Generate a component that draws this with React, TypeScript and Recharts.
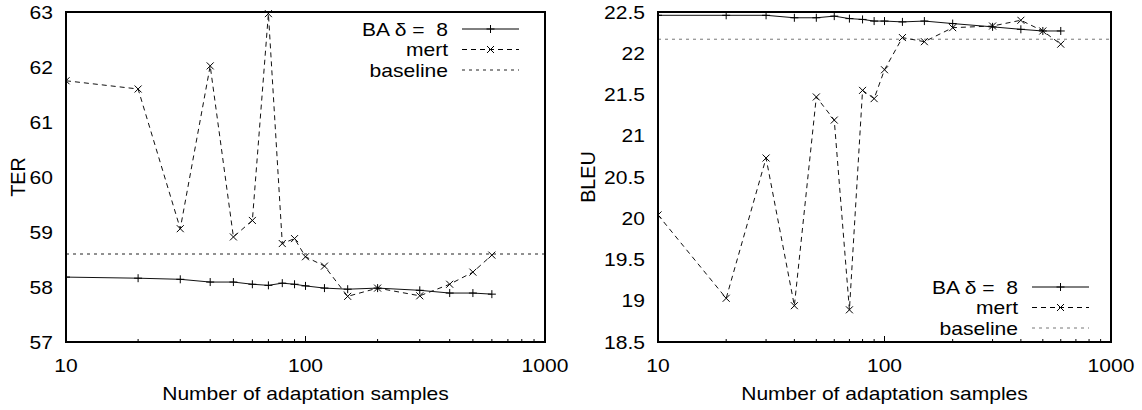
import { LineChart, Line, XAxis, YAxis, ReferenceLine, Legend } from "recharts";

// adaptation set sizes (shared x values of both panels)
const SAMPLES = [10, 20, 30, 40, 50, 60, 70, 80, 90, 100, 120, 150, 200, 300, 400, 500, 600];

const TER_BA = [58.18, 58.16, 58.14, 58.09, 58.09, 58.05, 58.03, 58.07, 58.05, 58.02, 57.98, 57.96, 57.98, 57.94, 57.89, 57.89, 57.87];
const TER_MERT = [61.75, 61.6, 59.06, 62.02, 58.91, 59.21, 62.97, 58.79, 58.88, 58.55, 58.38, 57.83, 57.98, 57.84, 58.05, 58.27, 58.58];
const TER_BASELINE = 58.6;

const BLEU_BA = [22.46, 22.46, 22.46, 22.43, 22.43, 22.45, 22.42, 22.41, 22.39, 22.39, 22.38, 22.39, 22.36, 22.32, 22.29, 22.27, 22.27];
const BLEU_MERT = [20.04, 19.03, 20.73, 18.94, 21.47, 21.19, 18.89, 21.55, 21.45, 21.8, 22.19, 22.14, 22.31, 22.33, 22.4, 22.27, 22.11];
const BLEU_BASELINE = 22.17;

const X_DOMAIN = [10, 1000];
const X_TICKS = [10, 20, 30, 40, 50, 60, 70, 80, 90, 100, 200, 300, 400, 500, 600, 700, 800, 900, 1000];
const X_LABELS = [10, 100, 1000];
const TER_TICKS = [57, 58, 59, 60, 61, 62, 63];
const BLEU_TICKS = [18.5, 19, 19.5, 20, 20.5, 21, 21.5, 22, 22.5];

const FONT = '"Liberation Sans", Arial, Helvetica, sans-serif';
const FONT_SIZE = 18;
const STRETCH = 1.17; // the original text is a bit wider than it is tall
const TOP = 12;
const X_AXIS_H = 68;
const CHART_H = 410;

function Stretched({ x, y, anchor, rotate, children }: any) {
  const t = rotate
    ? `translate(${x},${y}) rotate(-90) scale(1.1,${STRETCH})`
    : `translate(${x},${y}) scale(${STRETCH},1)`;
  return (
    <text transform={t} textAnchor={anchor} fontFamily={FONT} fontSize={FONT_SIZE} fill="#000" style={{ whiteSpace: "pre" }}>
      {children}
    </text>
  );
}

function XTick(props: any) {
  const { x, y, payload } = props;
  const major = X_LABELS.includes(payload.value);
  return (
    <g>
      <path d={`M${x},${y}v${major ? -6 : -3}`} stroke="#000" strokeWidth={1} />
      {major && (
        <Stretched x={x} y={y + 30} anchor="middle">
          {payload.value}
        </Stretched>
      )}
    </g>
  );
}

function YTick(props: any) {
  const { x, y, payload } = props;
  return (
    <Stretched x={x - 13} y={y + 6.5} anchor="end">
      {payload.value}
    </Stretched>
  );
}

function XTitle({ viewBox }: any) {
  return (
    <Stretched x={viewBox.x + viewBox.width / 2} y={viewBox.y + 58} anchor="middle">
      Number of adaptation samples
    </Stretched>
  );
}

function YTitle({ viewBox, text }: any) {
  return (
    <Stretched x={viewBox.x + 25} y={viewBox.y + viewBox.height / 2} anchor="middle" rotate>
      {text}
    </Stretched>
  );
}

const plusPath = (cx: number, cy: number) => `M${cx - 4},${cy}h8M${cx},${cy - 4}v8`;
const crossPath = (cx: number, cy: number) => `M${cx - 3.5},${cy - 3.5}l7,7M${cx - 3.5},${cy + 3.5}l7,-7`;

const plusDot = (p: any) => (
  <path key={`p${p.index}`} d={plusPath(p.cx, p.cy)} stroke="#000" strokeWidth={1} fill="none" />
);
const crossDot = (p: any) => (
  <path key={`x${p.index}`} d={crossPath(p.cx, p.cy)} stroke="#000" strokeWidth={1} fill="none" />
);

// gnuplot-style key: text right-aligned, then a line sample with its marker
function Key({ baselineColor }: any) {
  const rows = [
    { label: "BA \u03b4 =  8", dash: undefined, mark: plusPath },
    { label: "mert", dash: "5 4", mark: crossPath },
    { label: "baseline", dash: "3 4", mark: null },
  ];
  return (
    <svg width={240} height={66}>
      {rows.map((r, i) => {
        const cy = 12 + i * 20.5;
        return (
          <g key={r.label}>
            <Stretched x={148} y={cy + 6.5} anchor="end">
              {r.label}
            </Stretched>
            <line x1={162} x2={219} y1={cy} y2={cy} stroke={r.mark ? "#000" : baselineColor} strokeDasharray={r.dash} />
            {r.mark && <path d={r.mark(190.5, cy)} stroke="#000" fill="none" />}
          </g>
        );
      })}
    </svg>
  );
}

interface PanelProps {
  ba: number[];
  mert: number[];
  baseline: number;
  domain: [number, number];
  ticks: number[];
  yLabel: string;
  width: number;
  right: number;
  yWidth: number;
  keyTop: number;
  baselineColor: string;
}

function Panel({ ba, mert, baseline, domain, ticks, yLabel, width, right, yWidth, keyTop, baselineColor }: PanelProps) {
  const data = SAMPLES.map((n, i) => ({ n, ba: ba[i], mert: mert[i] }));
  return (
    <div style={{ position: "relative", width, height: CHART_H }}>
      <LineChart width={width} height={CHART_H} data={data} margin={{ top: TOP, right, bottom: 0, left: 0 }}>
        <XAxis
          dataKey="n"
          type="number"
          scale="log"
          domain={X_DOMAIN}
          ticks={X_TICKS}
          interval={0}
          tick={<XTick />}
          tickLine={false}
          axisLine={false}
          tickSize={0}
          tickMargin={0}
          height={X_AXIS_H}
          allowDataOverflow
          label={<XTitle />}
        />
        <YAxis
          type="number"
          domain={domain}
          ticks={ticks}
          interval={0}
          tick={<YTick />}
          tickLine={false}
          axisLine={false}
          tickSize={0}
          tickMargin={0}
          width={yWidth}
          label={<YTitle text={yLabel} />}
        />
        <ReferenceLine y={baseline} stroke={baselineColor} strokeWidth={1} strokeDasharray="3 4" />
        <Line type="linear" dataKey="ba" stroke="#111" strokeWidth={1} dot={plusDot} activeDot={false} isAnimationActive={false} />
        <Line
          type="linear"
          dataKey="mert"
          stroke="#111"
          strokeWidth={1}
          strokeDasharray="5 4"
          dot={crossDot}
          activeDot={false}
          isAnimationActive={false}
        />
        <Legend
          layout="vertical"
          align="center"
          verticalAlign="middle"
          content={<Key baselineColor={baselineColor} />}
          wrapperStyle={{ left: 300, top: keyTop, width: 240, height: 66 }}
        />
      </LineChart>
      {/* plot border drawn over the plot area */}
      <div
        style={{
          position: "absolute",
          left: yWidth - 1,
          top: TOP - 1,
          width: width - yWidth - right + 2,
          height: CHART_H - TOP - X_AXIS_H + 2,
          border: "2px solid #000",
          boxSizing: "border-box",
          pointerEvents: "none",
        }}
      />
    </div>
  );
}

export default function App() {
  return (
    <div style={{ position: "absolute", left: 0, top: 0, width: 1142, height: 410, background: "#fff" }}>
      <div style={{ position: "absolute", left: 0, top: 0 }}>
        <Panel
          ba={TER_BA}
          mert={TER_MERT}
          baseline={TER_BASELINE}
          domain={[57, 63]}
          ticks={TER_TICKS}
          yLabel="TER"
          width={570}
          right={25}
          yWidth={66}
          keyTop={17}
          baselineColor="#222"
        />
      </div>
      <div style={{ position: "absolute", left: 570, top: 0 }}>
        <Panel
          ba={BLEU_BA}
          mert={BLEU_MERT}
          baseline={BLEU_BASELINE}
          domain={[18.5, 22.5]}
          ticks={BLEU_TICKS}
          yLabel="BLEU"
          width={572}
          right={31}
          yWidth={88}
          keyTop={275}
          baselineColor="#777"
        />
      </div>
    </div>
  );
}
